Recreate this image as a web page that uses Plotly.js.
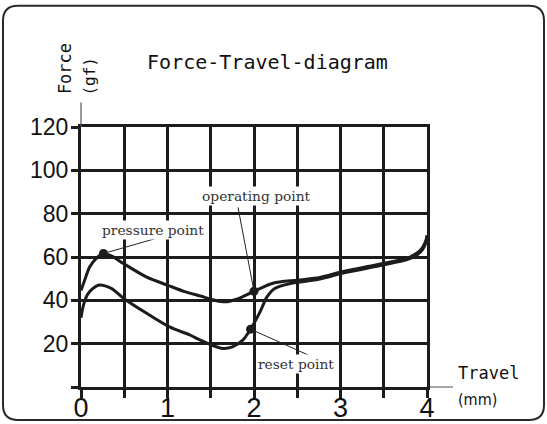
<!DOCTYPE html>
<html>
<head>
<meta charset="utf-8">
<script src="https://cdn.plot.ly/plotly-3.0.1.min.js"></script>
<style>
html,body{margin:0;padding:0;background:#fff;}
#chart{width:547px;height:424px;}
</style>
</head>
<body>
<div id="chart"></div>
<script>
// ---- data ----
const pressTravel = [0.0, 0.04, 0.1, 0.18, 0.26, 0.35, 0.49, 0.76, 1.0, 1.2, 1.38, 1.55, 1.66, 1.8, 2.0, 2.22, 2.5, 2.76, 3.03, 3.49, 3.77, 3.88, 3.95, 3.99, 4.0];
const pressForce  = [44.5, 49, 55.4, 59.5, 61.6, 60.5, 57, 50.7, 47, 44, 42, 40, 39.3, 40.5, 44.2, 47.9, 49.3, 50.5, 53.3, 57, 59.5, 61.7, 64.5, 68, 70];
const returnTravel = [0.0, 0.03, 0.08, 0.2, 0.35, 0.49, 0.76, 1.03, 1.26, 1.38, 1.5, 1.64, 1.75, 1.87, 1.96, 2.07, 2.15, 2.24, 2.42, 2.76, 3.03, 3.49, 3.77, 3.88, 3.95, 3.99, 4.0];
const returnForce  = [32, 38, 43, 47, 45.5, 41, 34, 27.6, 24, 21.6, 19.5, 17.8, 18.5, 21.6, 26.7, 34.7, 41.6, 45.5, 47.8, 49.8, 52.6, 56.3, 58.8, 60.8, 63.5, 67, 69.5];
const pointNames  = ["pressure point", "operating point", "reset point"];
const pointTravel = [0.26, 2.0, 1.96];
const pointForce  = [61.6, 44.2, 26.7];
const labelTravel = [0.838, 2.029, 2.48];
const labelForce  = [72.3, 88.0, 10.6];
const leaderTravel = [0.913, 1.815, 2.68];
const leaderForce  = [69.1, 82.9, 13.8];
const xTickVals = [0, 0.5, 1, 1.5, 2, 2.5, 3, 3.5, 4];
const xTickText = ["0", "", "1", "", "2", "", "3", "", "4"];
const yTickVals = [0, 20, 40, 60, 80, 100, 120];
const yTickText = ["", "20", "40", "60", "80", "100", "120"];

// ---- layout helpers (pixel -> paper) ----
const L = 81, R = 427, T = 126.5, B = 387;
const px = v => (v - L) / (R - L);
const py = v => (B - v) / (B - T);

const ink = "#1c1c1c";
const traces = [
  {x: pressTravel, y: pressForce, mode: "lines", line: {color: ink, width: 3, shape: "spline", smoothing: 0.8}, hoverinfo: "skip"},
  {x: returnTravel, y: returnForce, mode: "lines", line: {color: ink, width: 3, shape: "spline", smoothing: 0.8}, hoverinfo: "skip"},
  {x: pointTravel, y: pointForce, mode: "markers", marker: {color: ink, size: 9}, hoverinfo: "skip"}
];

// rounded border
const bx0 = 3, bx1 = 544, by0 = 5, by1 = 420, rr = 15;
const borderPath =
  `M ${px(bx0 + rr)} ${py(by0)} L ${px(bx1 - rr)} ${py(by0)} Q ${px(bx1)} ${py(by0)} ${px(bx1)} ${py(by0 + rr)} ` +
  `L ${px(bx1)} ${py(by1 - rr)} Q ${px(bx1)} ${py(by1)} ${px(bx1 - rr)} ${py(by1)} ` +
  `L ${px(bx0 + rr)} ${py(by1)} Q ${px(bx0)} ${py(by1)} ${px(bx0)} ${py(by1 - rr)} ` +
  `L ${px(bx0)} ${py(by0 + rr)} Q ${px(bx0)} ${py(by0)} ${px(bx0 + rr)} ${py(by0)} Z`;

const shapes = [
  {type: "path", xref: "paper", yref: "paper", path: borderPath, line: {color: "#2a2a2a", width: 2}},
  {type: "line", xref: "paper", yref: "paper", x0: 1, x1: px(453), y0: 0, y1: 0, line: {color: "#8a8a8a", width: 1.5}, layer: "below"},
  {type: "line", xref: "paper", yref: "paper", x0: 0, x1: 0, y0: 1, y1: py(102), line: {color: "#555", width: 1.2}}
];
pointNames.forEach((n, i) => {
  shapes.push({type: "line", xref: "x", yref: "y", x0: pointTravel[i], y0: pointForce[i], x1: leaderTravel[i], y1: leaderForce[i], line: {color: "#222", width: 1}});
});

const annotations = [];
pointNames.forEach((n, i) => {
  annotations.push({x: labelTravel[i], y: labelForce[i], xref: "x", yref: "y", text: n, showarrow: false,
    font: {family: "DejaVu Serif, Liberation Serif, serif", size: 13.8, color: "#333"},
    bgcolor: "#ffffff", borderpad: 1, xanchor: "center", yanchor: "middle"});
});
const monoFont = "DejaVu Sans Mono, monospace";
annotations.push(
  {xref: "paper", yref: "paper", x: px(64.5), y: py(68), text: "Force", textangle: -90, showarrow: false,
   font: {family: monoFont, size: 17, color: "#111"}, xanchor: "center", yanchor: "middle"},
  {xref: "paper", yref: "paper", x: px(90), y: py(76), text: "(gf)", textangle: -90, showarrow: false,
   font: {family: monoFont, size: 16, color: "#111"}, xanchor: "center", yanchor: "middle"},
  {xref: "paper", yref: "paper", x: px(488), y: py(373), text: "Travel", showarrow: false,
   font: {family: monoFont, size: 17, color: "#111"}, xanchor: "center", yanchor: "middle"},
  {xref: "paper", yref: "paper", x: px(478), y: py(400), text: "(mm)", showarrow: false,
   font: {family: "Liberation Sans Narrow, DejaVu Sans Condensed, sans-serif", size: 16, color: "#111"}, xanchor: "center", yanchor: "middle"}
);

const layout = {
  width: 547, height: 424,
  margin: {l: L, r: 547 - R, t: T, b: 424 - B, pad: 0},
  paper_bgcolor: "#fff", plot_bgcolor: "#fff",
  showlegend: false,
  title: {text: "Force-Travel-diagram", x: 267.5 / 547, y: 1 - 62 / 424, xanchor: "center", yanchor: "middle",
          xref: "container", yref: "container", font: {family: monoFont, size: 20, color: "#111"}},
  xaxis: {range: [0, 4], tickmode: "array", tickvals: xTickVals, ticktext: xTickText,
          showgrid: true, gridcolor: ink, gridwidth: 3, zeroline: false,
          showline: true, mirror: true, linecolor: ink, linewidth: 3,
          ticks: "outside", ticklen: 8, tickwidth: 3, tickcolor: ink, ticklabelstandoff: -13,
          tickfont: {family: "Liberation Sans, Arial, sans-serif", size: 27, color: "#111"}, fixedrange: true},
  yaxis: {range: [0, 120], tickmode: "array", tickvals: yTickVals, ticktext: yTickText,
          showgrid: true, gridcolor: ink, gridwidth: 3, zeroline: false,
          showline: true, mirror: true, linecolor: ink, linewidth: 3,
          ticks: "outside", ticklen: 7, tickwidth: 3, tickcolor: ink, ticklabelstandoff: -2,
          tickfont: {family: "Liberation Sans, Arial, sans-serif", size: 23, color: "#111"}, fixedrange: true},
  shapes: shapes,
  annotations: annotations
};

Plotly.newPlot("chart", traces, layout, {displayModeBar: false, staticPlot: true});
</script>
</body>
</html>
